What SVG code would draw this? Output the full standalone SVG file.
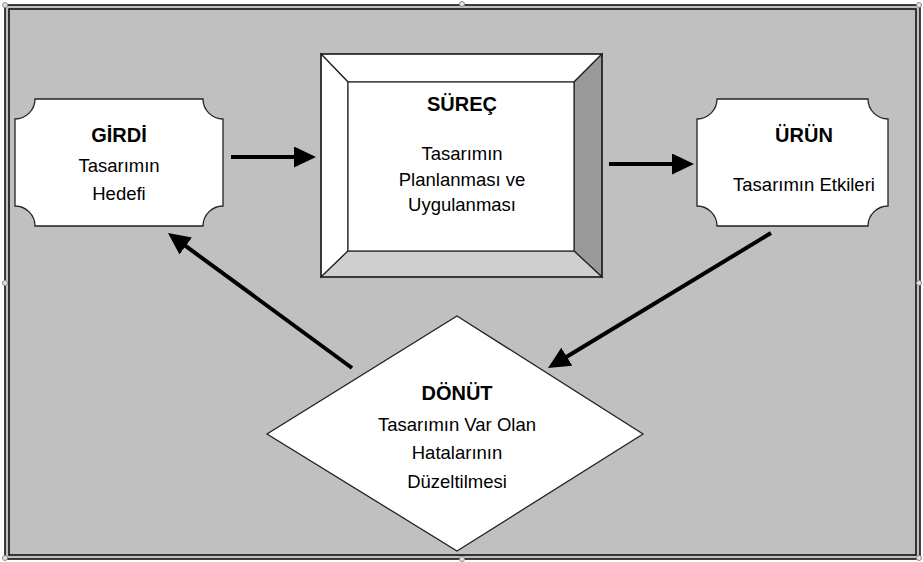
<svg xmlns="http://www.w3.org/2000/svg" width="923" height="562" viewBox="0 0 923 562">
  <style>
    .frame { fill: none; stroke: #111; stroke-width: 1.6; }
    .node { fill: #fff; stroke: #222; stroke-width: 1.3; }
    .edge { fill: none; stroke: #000; stroke-width: 4; }
    .bevel { stroke: #222; stroke-width: 1.2; }
    .title { font-family: "Liberation Sans", Arial, sans-serif; font-size: 20px; font-weight: bold; text-anchor: middle; fill: #000; }
    .label { font-family: "Liberation Sans", Arial, sans-serif; font-size: 18.5px; text-anchor: middle; fill: #000; }
    .handle { fill: #e4e4e4; stroke: #8a8a8a; stroke-width: 1; }
  </style>
  <defs>
    <marker id="head" viewBox="0 0 22 21" markerWidth="22" markerHeight="21" refX="4" refY="10.5" orient="auto" markerUnits="userSpaceOnUse">
      <path d="M0,0 L22,10.5 L0,21 Z" fill="#000"/>
    </marker>
  </defs>

  <!-- page background and double frame -->
  <rect x="0" y="0" width="923" height="562" fill="#fff"/>
  <rect x="5" y="5" width="915" height="554" fill="#c0c0c0"/>
  <rect x="5" y="5" width="915" height="554" class="frame"/>
  <rect x="9" y="9" width="907" height="546" class="frame"/>

  <!-- GİRDİ -->
  <g id="girdi">
    <path class="node" d="M35,99 H203 A20,20 0 0 0 223,119 V206 A20,20 0 0 0 203,226 H35 A20,20 0 0 0 15,206 V119 A20,20 0 0 0 35,99 Z"/>
    <text class="title" x="119" y="142">GİRDİ</text>
    <text class="label" x="119" y="172">Tasarımın</text>
    <text class="label" x="119" y="200">Hedefi</text>
  </g>

  <!-- SÜREÇ (bevelled box) -->
  <g id="surec">
    <polygon class="bevel" fill="#fff" points="321,54 602,54 574,82 348,82"/>
    <polygon class="bevel" fill="#fff" points="321,54 348,82 348,251 321,277"/>
    <polygon class="bevel" fill="#9a9a9a" points="602,54 602,277 574,251 574,82"/>
    <polygon class="bevel" fill="#cfcfcf" points="321,277 348,251 574,251 602,277"/>
    <rect class="bevel" fill="#fff" x="348" y="82" width="226" height="169"/>
    <rect x="321" y="54" width="281" height="223" fill="none" stroke="#222" stroke-width="1.4"/>
    <text class="title" x="462" y="111">SÜREÇ</text>
    <text class="label" x="462" y="160">Tasarımın</text>
    <text class="label" x="462" y="186">Planlanması ve</text>
    <text class="label" x="462" y="211">Uygulanması</text>
  </g>

  <!-- ÜRÜN -->
  <g id="urun">
    <path class="node" d="M717,99 H868 A20,20 0 0 0 888,119 V206 A20,20 0 0 0 868,226 H717 A20,20 0 0 0 697,206 V119 A20,20 0 0 0 717,99 Z"/>
    <text class="title" x="804" y="142">ÜRÜN</text>
    <text class="label" x="804" y="191">Tasarımın Etkileri</text>
  </g>

  <!-- DÖNÜT -->
  <g id="donut">
    <polygon class="node" points="457,316 643,434 457,551 267,434"/>
    <text class="title" x="457" y="400">DÖNÜT</text>
    <text class="label" x="457" y="431">Tasarımın Var Olan</text>
    <text class="label" x="457" y="459">Hatalarının</text>
    <text class="label" x="457" y="488">Düzeltilmesi</text>
  </g>

  <!-- connectors -->
  <g id="connectors">
    <line class="edge" x1="231" y1="157" x2="298" y2="157" marker-end="url(#head)"/>
    <line class="edge" x1="609" y1="164" x2="676" y2="164" marker-end="url(#head)"/>
    <line class="edge" x1="771" y1="233" x2="563.4" y2="358.7" marker-end="url(#head)"/>
    <line class="edge" x1="352" y1="368" x2="182.5" y2="243.7" marker-end="url(#head)"/>
  </g>

  <!-- selection handles on the frame -->
  <g id="handles">
    <circle class="handle" cx="5" cy="5" r="2.5"/>
    <circle class="handle" cx="462" cy="4" r="2.5"/>
    <circle class="handle" cx="919" cy="5" r="2.5"/>
    <circle class="handle" cx="5" cy="283" r="2.5"/>
    <circle class="handle" cx="919" cy="283" r="2.5"/>
    <circle class="handle" cx="5" cy="558" r="2.5"/>
    <circle class="handle" cx="462" cy="559" r="2.5"/>
    <circle class="handle" cx="919" cy="558" r="2.5"/>
  </g>
</svg>
